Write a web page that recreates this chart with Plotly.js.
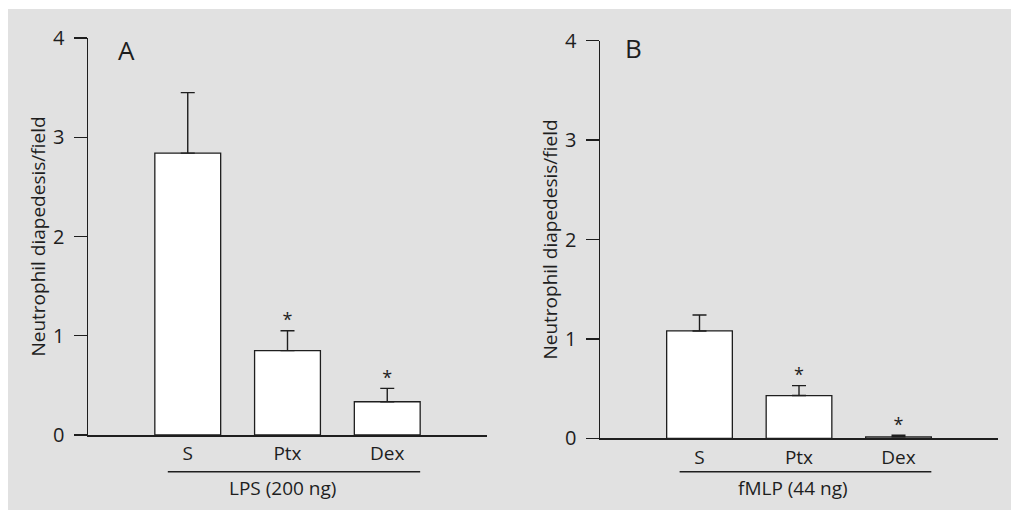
<!DOCTYPE html>
<html>
<head>
<meta charset="utf-8">
<script src="https://cdn.plot.ly/plotly-3.0.1.min.js"></script>
<style>html,body{margin:0;padding:0;background:#fff;}#chart{width:1011px;height:510px;}</style>
</head>
<body>
<div id="chart"></div>
<script>
// ---- data ----
const categories = ['S', 'Ptx', 'Dex'];
const lpsMeans = [2.84, 0.85, 0.335];
const lpsErrors = [0.61, 0.20, 0.135];
const fmlpMeans = [1.08, 0.43, 0.015];
const fmlpErrors = [0.16, 0.10, 0.015];
const significance = ['', '*', '*'];
const yTicks = [0, 1, 2, 3, 4];
const panelLetters = ['A', 'B'];
const groupLabels = ['LPS (200 ng)', 'fMLP (44 ng)'];
const yTitle = 'Neutrophil diapedesis/field';

const FONT = 'Open Sans, Noto Sans, Liberation Sans, sans-serif';
const INK = '#1e1e1e';
const W = 1011, H = 510;
const FS = 19;

function barTrace(means, errs, xa, ya) {
  return {
    type: 'bar', x: categories, y: means, xaxis: xa, yaxis: ya,
    width: 0.66,
    marker: {color: '#ffffff', line: {color: INK, width: 1.3}},
    error_y: {type: 'data', symmetric: false, array: errs, arrayminus: errs.map(() => 0),
              color: INK, thickness: 1.4, width: 7},
    hoverinfo: 'skip', showlegend: false
  };
}
function starTrace(means, errs, xa, ya) {
  return {
    type: 'scatter', mode: 'text', x: categories,
    y: means.map((m, i) => m + errs[i]), text: significance,
    textposition: 'top center', textfont: {family: FONT, size: 18, color: INK},
    xaxis: xa, yaxis: ya, hoverinfo: 'skip', showlegend: false, cliponaxis: false
  };
}

const data = [
  barTrace(lpsMeans, lpsErrors, 'x', 'y'),
  starTrace(lpsMeans, lpsErrors, 'x', 'y'),
  barTrace(fmlpMeans, fmlpErrors, 'x2', 'y2'),
  starTrace(fmlpMeans, fmlpErrors, 'x2', 'y2')
];

function xAxis(domain, anchor) {
  return {
    domain: domain, anchor: anchor, type: 'category', range: [-1, 3],
    showline: true, linecolor: INK, linewidth: 1.5, ticks: '',
    showgrid: false, zeroline: false, ticklabelstandoff: 1,
    tickfont: {family: FONT, size: FS, color: INK}, fixedrange: true
  };
}
function yAxis(domain, anchor) {
  return {
    domain: domain, anchor: anchor, range: [0, 4], tickvals: yTicks,
    ticks: 'outside', ticklen: 13, tickwidth: 1.3, tickcolor: INK,
    showline: true, linecolor: INK, linewidth: 1.5,
    showgrid: false, zeroline: false, ticklabelstandoff: 5,
    tickfont: {family: FONT, size: 20, color: INK},
    title: {text: yTitle, font: {family: FONT, size: FS, color: INK}, standoff: 2},
    fixedrange: true
  };
}

function note(xref, x, yPx, text, size) {
  return {xref: xref, yref: 'paper', x: x, y: (H - yPx) / H, text: text,
          xanchor: 'center', yanchor: 'middle', showarrow: false,
          font: {family: FONT, size: size, color: INK}};
}

const layout = {
  width: W, height: H,
  margin: {l: 0, r: 0, t: 0, b: 0},
  paper_bgcolor: '#ffffff', plot_bgcolor: 'rgba(0,0,0,0)',
  font: {family: FONT, color: INK},
  showlegend: false,
  xaxis: xAxis([88 / W, 487 / W], 'y'),
  yaxis: yAxis([(H - 435) / H, (H - 38) / H], 'x'),
  xaxis2: xAxis([600 / W, 998 / W], 'y2'),
  yaxis2: yAxis([(H - 438.3) / H, (H - 40.7) / H], 'x2'),
  shapes: [
    {type: 'rect', xref: 'paper', yref: 'paper', x0: 8 / W, x1: 1, y0: 0, y1: (H - 9) / H,
     fillcolor: '#e1e1e1', line: {width: 0}, layer: 'below'},
    {type: 'line', xref: 'x', yref: 'paper', x0: -0.2, x1: 2.33,
     y0: (H - 471.7) / H, y1: (H - 471.7) / H, line: {color: INK, width: 1.5}},
    {type: 'line', xref: 'x2', yref: 'paper', x0: -0.2, x1: 2.33,
     y0: (H - 471.7) / H, y1: (H - 471.7) / H, line: {color: INK, width: 1.5}}
  ],
  annotations: [
    note('paper', 126 / W, 50, panelLetters[0], 26),
    note('paper', 633 / W, 48, panelLetters[1], 26),
    note('x', 0.95, 488, groupLabels[0], FS),
    note('x2', 0.94, 488, groupLabels[1], FS)
  ]
};

Plotly.newPlot('chart', data, layout, {displayModeBar: false, staticPlot: true});
</script>
</body>
</html>
